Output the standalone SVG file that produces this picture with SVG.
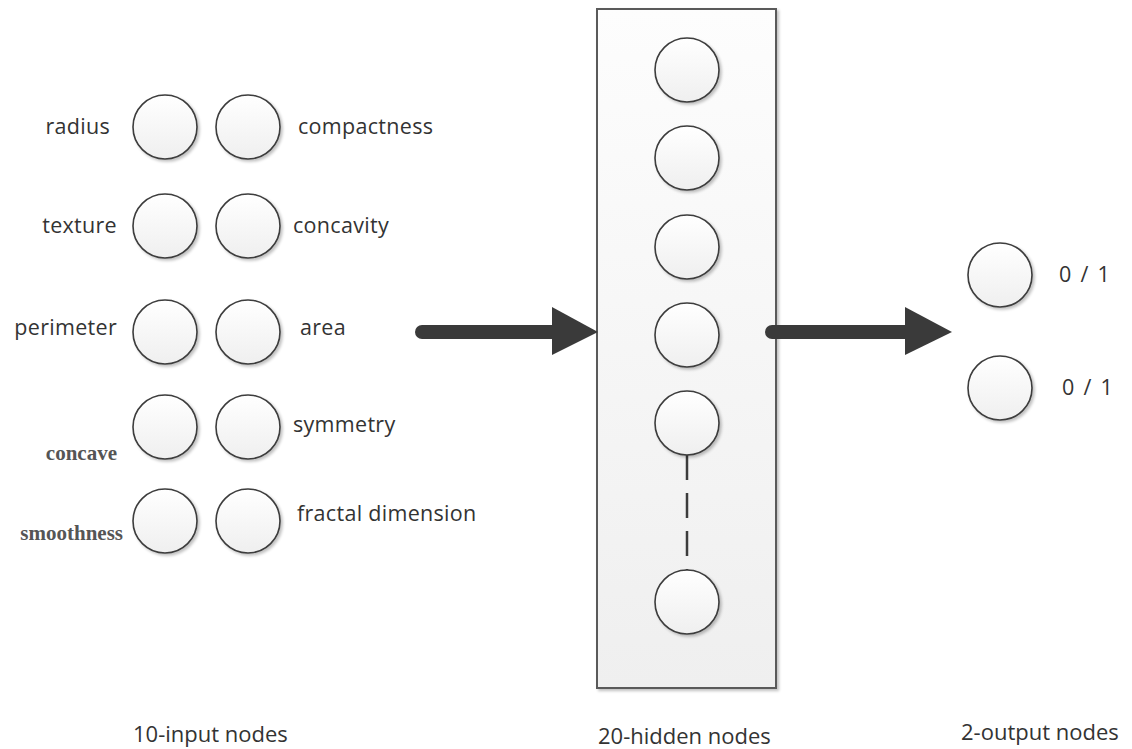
<svg xmlns="http://www.w3.org/2000/svg" width="1132" height="749" viewBox="0 0 1132 749">
<defs>
  <linearGradient id="cg" x1="0" y1="0" x2="0" y2="1">
    <stop offset="0" stop-color="#ffffff"/>
    <stop offset="1" stop-color="#efefef"/>
  </linearGradient>
  <linearGradient id="bg" x1="0" y1="0" x2="0" y2="1">
    <stop offset="0" stop-color="#fdfdfd"/>
    <stop offset="1" stop-color="#efefef"/>
  </linearGradient>
  <filter id="sh" x="-20%" y="-20%" width="150%" height="150%">
    <feGaussianBlur in="SourceAlpha" stdDeviation="1.5"/>
    <feOffset dx="2" dy="2" result="b"/>
    <feComponentTransfer><feFuncA type="linear" slope="0.25"/></feComponentTransfer>
    <feMerge><feMergeNode/><feMergeNode in="SourceGraphic"/></feMerge>
  </filter>
  <style>
    .n { fill: url(#cg); stroke: #3c3c3c; stroke-width: 1.6; filter: url(#sh); }
    .t { font-family: "Open Sans", "Liberation Sans", sans-serif; font-size: 21.5px; fill: #333333; letter-spacing: 0.3px; }
    .tr { text-anchor: end; }
    .o { letter-spacing: 1.8px; }
    .s { font-family: "Liberation Serif", serif; font-weight: bold; font-size: 21px; fill: #555555; text-anchor: end; }
    .cap { font-family: "Open Sans", "Liberation Sans", sans-serif; font-size: 22px; fill: #333333; }
    .ln { stroke: #3a3a3a; stroke-width: 14; stroke-linecap: round; fill: none; }
    .hd { fill: #3a3a3a; }
  </style>
</defs>
<rect width="1132" height="749" fill="#ffffff"/>

<g id="hidden-layer">
  <rect x="597" y="9" width="179" height="679" fill="url(#bg)" stroke="#5a5a5a" stroke-width="2" filter="url(#sh)"/>
</g>

<g id="connectors">
  <line class="ln" x1="422" y1="332" x2="560" y2="332"/>
  <polygon class="hd" points="552,307 598,332 552,355"/>
  <line class="ln" x1="772" y1="332" x2="912" y2="332"/>
  <polygon class="hd" points="905,307 952,332 905,355"/>
  <line x1="687" y1="455" x2="687" y2="570" stroke="#3c3c3c" stroke-width="2.5" stroke-dasharray="25,13"/>
</g>

<g id="in-radius"><circle class="n" cx="165" cy="127" r="32"/><text class="t tr" x="110" y="134">radius</text></g>
<g id="in-texture"><circle class="n" cx="165" cy="226" r="32"/><text class="t tr" x="117" y="233">texture</text></g>
<g id="in-perimeter"><circle class="n" cx="165" cy="332" r="32"/><text class="t tr" x="117" y="335">perimeter</text></g>
<g id="in-concave"><circle class="n" cx="165" cy="427" r="32"/><text class="s" x="117" y="460">concave</text></g>
<g id="in-smoothness"><circle class="n" cx="165" cy="521" r="32"/><text class="s" x="123" y="540">smoothness</text></g>
<g id="in-compactness"><circle class="n" cx="248" cy="127" r="32"/><text class="t" x="298" y="134">compactness</text></g>
<g id="in-concavity"><circle class="n" cx="248" cy="226" r="32"/><text class="t" x="293" y="233">concavity</text></g>
<g id="in-area"><circle class="n" cx="248" cy="332" r="32"/><text class="t" x="300" y="335">area</text></g>
<g id="in-symmetry"><circle class="n" cx="248" cy="427" r="32"/><text class="t" x="293" y="432">symmetry</text></g>
<g id="in-fractal"><circle class="n" cx="248" cy="521" r="32"/><text class="t" x="297" y="521">fractal dimension</text></g>

<g id="h1"><circle class="n" cx="687" cy="70" r="32"/></g>
<g id="h2"><circle class="n" cx="687" cy="158" r="32"/></g>
<g id="h3"><circle class="n" cx="687" cy="247" r="32"/></g>
<g id="h4"><circle class="n" cx="687" cy="335" r="32"/></g>
<g id="h5"><circle class="n" cx="687" cy="423" r="32"/></g>
<g id="h20"><circle class="n" cx="687" cy="602" r="32"/></g>

<g id="out1"><circle class="n" cx="1000" cy="275" r="32"/><text class="t o" x="1059" y="282">0 / 1</text></g>
<g id="out2"><circle class="n" cx="1000" cy="388" r="32"/><text class="t o" x="1062" y="395">0 / 1</text></g>

<g id="captions">
  <text class="cap" x="133" y="742">10-input nodes</text>
  <text class="cap" x="598" y="744">20-hidden nodes</text>
  <text class="cap" x="961" y="740">2-output nodes</text>
</g>
</svg>
